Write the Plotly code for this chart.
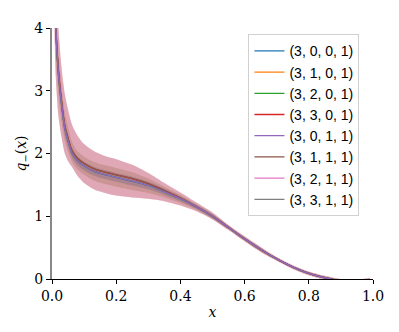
import plotly.graph_objects as go

# x grid and curves
x = [0.003, 0.008, 0.012, 0.02, 0.03, 0.04, 0.05, 0.063, 0.08, 0.1, 0.13, 0.16, 0.2, 0.25,
     0.3, 0.35, 0.4, 0.45, 0.5, 0.55, 0.6, 0.65, 0.7, 0.75, 0.8, 0.85, 0.9, 0.95, 0.99]

mean_a = [8.2, 5.05, 3.98, 3.28, 2.78, 2.4, 2.2, 2.0, 1.88, 1.8, 1.72, 1.67, 1.62, 1.56,
          1.49, 1.39, 1.28, 1.15, 1.0, 0.82, 0.64, 0.47, 0.32, 0.19, 0.09, 0.02, -0.03, -0.04, -0.01]
mean_b = [8.3, 5.1, 4.02, 3.32, 2.82, 2.44, 2.24, 2.04, 1.92, 1.84, 1.76, 1.71, 1.66, 1.6,
          1.52, 1.41, 1.29, 1.15, 1.0, 0.82, 0.64, 0.47, 0.32, 0.19, 0.09, 0.02, -0.03, -0.04, -0.01]

wide_lo = [6.0, 3.9, 3.2, 2.6, 2.25, 2.0, 1.88, 1.78, 1.64, 1.53, 1.43, 1.38, 1.33, 1.3,
           1.28, 1.24, 1.17, 1.08, 0.95, 0.78, 0.6, 0.43, 0.29, 0.16, 0.06, -0.01, -0.06, -0.07, -0.04]
wide_hi = [11.0, 6.3, 4.9, 4.0, 3.35, 2.95, 2.7, 2.45, 2.28, 2.15, 2.04, 1.97, 1.91, 1.82,
           1.69, 1.53, 1.38, 1.22, 1.06, 0.86, 0.68, 0.51, 0.35, 0.22, 0.12, 0.05, 0.0, -0.01, 0.02]
mid_lo = [7.0, 4.4, 3.55, 2.95, 2.5, 2.2, 2.03, 1.86, 1.74, 1.66, 1.57, 1.52, 1.47, 1.42,
          1.37, 1.3, 1.21, 1.1, 0.96, 0.79, 0.61, 0.44, 0.3, 0.17, 0.07, 0.0, -0.05, -0.06, -0.03]
mid_hi = [9.8, 5.7, 4.4, 3.6, 3.05, 2.65, 2.42, 2.18, 2.03, 1.95, 1.87, 1.82, 1.77, 1.7,
          1.6, 1.47, 1.34, 1.19, 1.04, 0.85, 0.67, 0.5, 0.34, 0.21, 0.11, 0.04, -0.01, -0.02, 0.01]
narrow_lo = [7.6, 4.8, 3.8, 3.12, 2.65, 2.3, 2.11, 1.93, 1.81, 1.73, 1.65, 1.6, 1.55, 1.49,
             1.43, 1.34, 1.24, 1.12, 0.97, 0.8, 0.62, 0.45, 0.31, 0.18, 0.08, 0.01, -0.04, -0.05, -0.02]
narrow_hi = [8.8, 5.3, 4.15, 3.45, 2.92, 2.5, 2.3, 2.08, 1.95, 1.87, 1.79, 1.74, 1.69, 1.63,
             1.55, 1.44, 1.32, 1.18, 1.03, 0.84, 0.66, 0.49, 0.33, 0.2, 0.1, 0.03, -0.02, -0.03, 0.0]

labels = ['(3, 0, 0, 1)', '(3, 1, 0, 1)', '(3, 2, 0, 1)', '(3, 3, 0, 1)',
          '(3, 0, 1, 1)', '(3, 1, 1, 1)', '(3, 2, 1, 1)', '(3, 3, 1, 1)']
colors = ['#1f77b4', '#ff7f0e', '#2ca02c', '#d62728',
          '#9467bd', '#8c564b', '#e377c2', '#7f7f7f']
means = [mean_a, mean_a, mean_a, mean_b, mean_a, mean_b, mean_a, mean_a]
bands = [(narrow_lo, narrow_hi), (mid_lo, mid_hi), (narrow_lo, narrow_hi), (wide_lo, wide_hi),
         (narrow_lo, narrow_hi), (wide_lo, wide_hi), (wide_lo, wide_hi), (mid_lo, mid_hi)]
# order in which the centre lines are stacked (last one on top)
line_order = [7, 6, 1, 2, 3, 0, 5, 4]

SERIF = 'DejaVu Serif'
SANS = 'Arial'
SPL = dict(shape='spline', smoothing=0.8)


def rgba(h, a):
    h = h.lstrip('#')
    return 'rgba(%d,%d,%d,%s)' % (int(h[0:2], 16), int(h[2:4], 16), int(h[4:6], 16), a)


fig = go.Figure()
# shaded bands first
for col, (lo, hi) in zip(colors, bands):
    fig.add_trace(go.Scatter(x=x, y=lo, mode='lines', line=dict(width=0, **SPL),
                             showlegend=False, hoverinfo='skip'))
    fig.add_trace(go.Scatter(x=x, y=hi, mode='lines', line=dict(width=0, **SPL),
                             fill='tonexty', fillcolor=rgba(col, 0.21),
                             showlegend=False, hoverinfo='skip'))
# centre lines on top
for i in line_order:
    fig.add_trace(go.Scatter(x=x, y=means[i], mode='lines', name=labels[i], legendrank=i + 1,
                             line=dict(color=colors[i], width=1.3, **SPL)))

# the page body adds an 8px offset, so the figure is shrunk by that amount
fig.update_layout(
    width=391, height=324,
    margin=dict(l=40, r=26, t=12, b=53),
    plot_bgcolor='white', paper_bgcolor='white',
    font=dict(family=SERIF, size=14, color='black'),
    legend=dict(x=0.612, y=0.975, xanchor='left', yanchor='top', traceorder='normal',
                font=dict(family=SANS, size=14, color='black'),
                bordercolor='#d0d0d0', borderwidth=1, itemwidth=30,
                bgcolor='rgba(255,255,255,0.8)'),
)
fig.update_xaxes(range=[0, 1], tickvals=[0, 0.2, 0.4, 0.6, 0.8, 1.0],
                 ticktext=['0.0', '0.2', '0.4', '0.6', '0.8', '1.0'],
                 tickfont=dict(family=SERIF, size=14),
                 showgrid=False, zeroline=False, showline=True, linecolor='black', linewidth=1,
                 ticks='outside', ticklen=4, tickcolor='black',
                 title=dict(text='<i>x</i>', standoff=4, font=dict(family=SERIF, size=14)))
fig.update_yaxes(range=[0, 4], tickvals=[0, 1, 2, 3, 4],
                 tickfont=dict(family=SERIF, size=14),
                 showgrid=False, zeroline=False, showline=True, linecolor='#888888', linewidth=2,
                 ticks='outside', ticklen=4, tickcolor='black',
                 title=dict(text='<i>q</i><sub>−</sub>(<i>x</i>)', standoff=4,
                            font=dict(family=SERIF, size=14)))

fig.write_html("out.html")
